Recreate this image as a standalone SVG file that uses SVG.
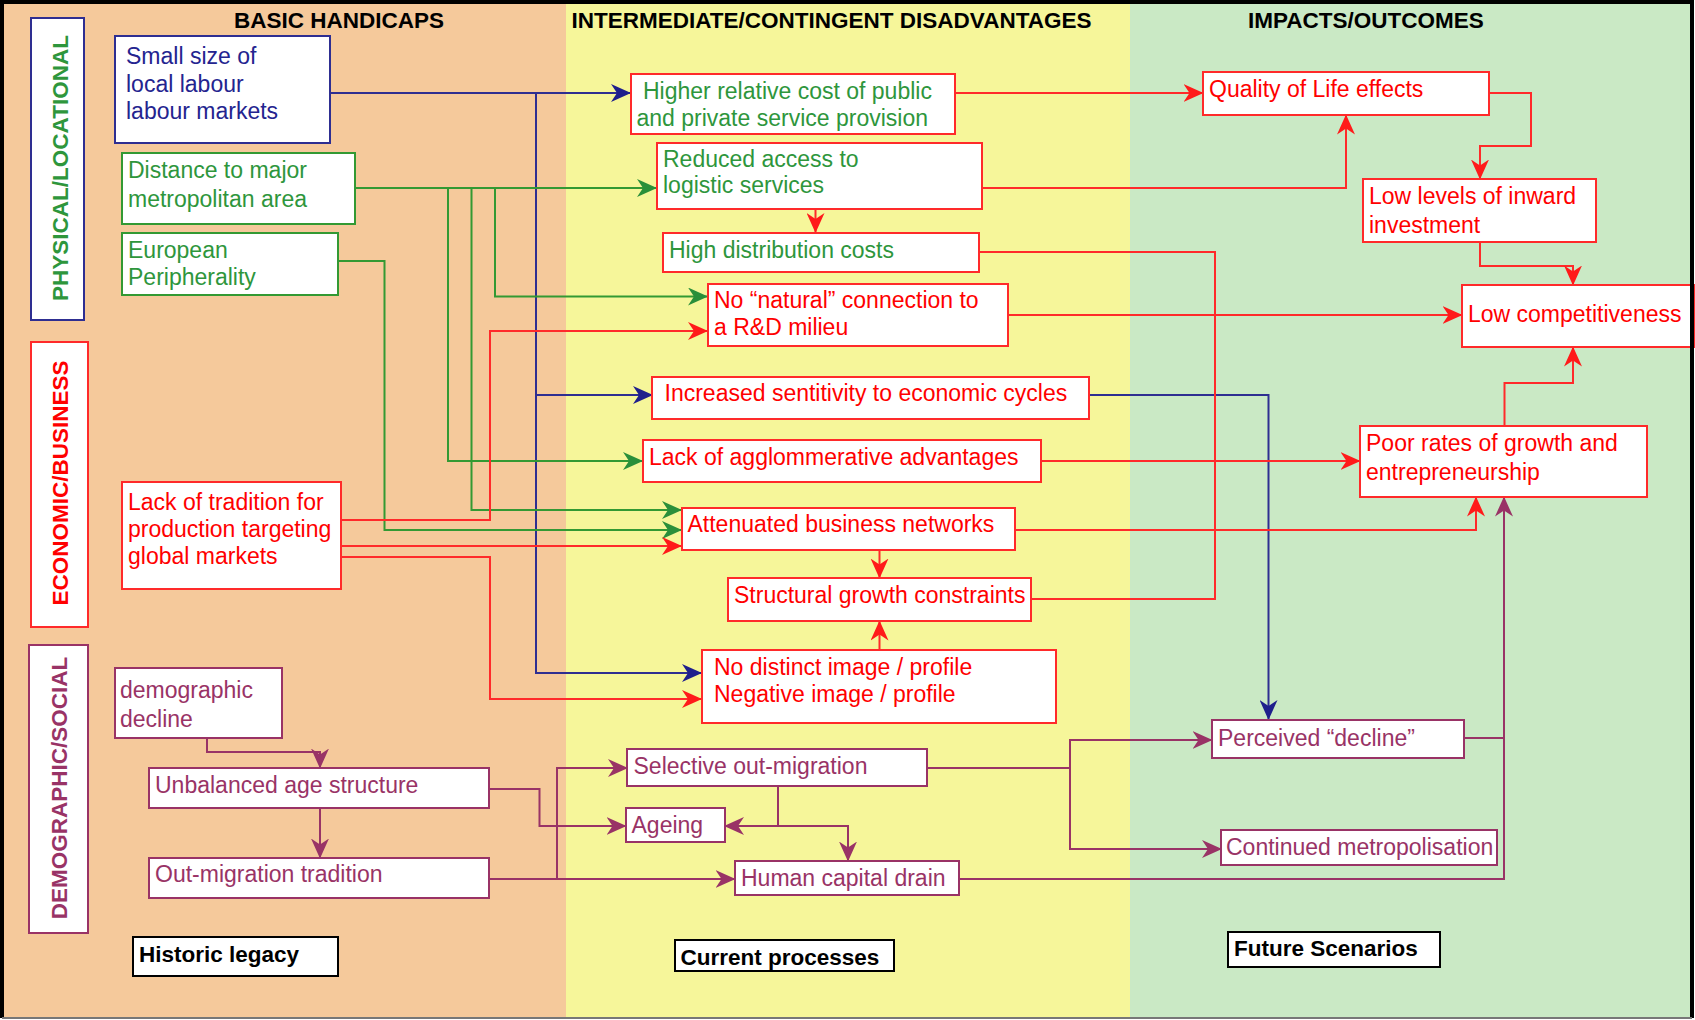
<svg xmlns="http://www.w3.org/2000/svg" width="1695" height="1020" viewBox="0 0 1695 1020">
<defs>
<style>
.t{font-family:"Liberation Sans",Arial,sans-serif;font-size:23px}
.b{font-family:"Liberation Sans",Arial,sans-serif;font-size:22.5px;font-weight:bold}
.box{fill:#fff;stroke-width:2}
.kb{fill:#fff;stroke:#000;stroke-width:2}
.rd{stroke:#FF2A2A}.gr{stroke:#339933}.nv{stroke:#2E2E91}.pp{stroke:#993366}
.tr{fill:#FF0000}.tg{fill:#2E963C}.tn{fill:#24248F}.tp{fill:#993366}.tk{fill:#000}
.c path{fill:none;stroke-width:2}
</style>
<marker id="an" markerUnits="userSpaceOnUse" markerWidth="20" markerHeight="18" refX="19" refY="9" orient="auto"><path d="M0,0 L20,9 L0,18 L6,9 Z" fill="#1F1F8C"/></marker>
<marker id="ag" markerUnits="userSpaceOnUse" markerWidth="20" markerHeight="18" refX="19" refY="9" orient="auto"><path d="M0,0 L20,9 L0,18 L6,9 Z" fill="#2A8F3A"/></marker>
<marker id="ar" markerUnits="userSpaceOnUse" markerWidth="20" markerHeight="18" refX="19" refY="9" orient="auto"><path d="M0,0 L20,9 L0,18 L6,9 Z" fill="#FF1A1A"/></marker>
<marker id="ap" markerUnits="userSpaceOnUse" markerWidth="20" markerHeight="18" refX="19" refY="9" orient="auto"><path d="M0,0 L20,9 L0,18 L6,9 Z" fill="#993366"/></marker>
</defs>

<g id="background">
<rect x="0" y="0" width="1695" height="1020" fill="#fff"/>
<rect x="4" y="4" width="562" height="1014" fill="#F5C99B"/>
<rect x="566" y="4" width="564" height="1014" fill="#F6F69A"/>
<rect x="1130" y="4" width="562" height="1014" fill="#CAE9C5"/>
</g>

<g id="headers">
<text class="b tk" x="234" y="28">BASIC HANDICAPS</text>
<text class="b tk" x="571.5" y="28">INTERMEDIATE/CONTINGENT DISADVANTAGES</text>
<text class="b tk" x="1248" y="28">IMPACTS/OUTCOMES</text>
</g>

<g id="cat-physical"><rect class="box nv" x="31" y="18" width="53" height="302"/><text class="b tg" font-size="23px" text-anchor="middle" transform="translate(68,168) rotate(-90)">PHYSICAL/LOCATIONAL</text></g>
<g id="cat-economic"><rect class="box rd" x="31" y="342" width="57" height="285"/><text class="b tr" font-size="23px" text-anchor="middle" transform="translate(68,483) rotate(-90)">ECONOMIC/BUSINESS</text></g>
<g id="cat-demographic"><rect class="box pp" x="29" y="645" width="59" height="288"/><text class="b tp" font-size="23px" text-anchor="middle" transform="translate(67,788) rotate(-90)">DEMOGRAPHIC/SOCIAL</text></g>

<g class="c" id="connectors">
<path class="nv" d="M330,93 H630" marker-end="url(#an)"/>
<path class="nv" d="M536,93 V673 H701" marker-end="url(#an)"/>
<path class="nv" d="M536,395 H652" marker-end="url(#an)"/>
<path class="nv" d="M1089,395 H1268.5 V719" marker-end="url(#an)"/>

<path class="gr" d="M355,188 H656" marker-end="url(#ag)"/>
<path class="gr" d="M495,188 V296.5 H707" marker-end="url(#ag)"/>
<path class="gr" d="M448,188 V461 H642" marker-end="url(#ag)"/>
<path class="gr" d="M471.5,188 V510 H681" marker-end="url(#ag)"/>
<path class="gr" d="M338,261 H384.5 V530 H681" marker-end="url(#ag)" stroke="#55AD55"/>

<path class="rd" d="M341,520 H490 V331 H707" marker-end="url(#ar)"/>
<path class="rd" d="M341,546 H681" marker-end="url(#ar)"/>
<path class="rd" d="M341,557 H490 V699 H701" marker-end="url(#ar)"/>
<path class="rd" d="M815.5,209 V232" marker-end="url(#ar)"/>
<path class="rd" d="M879.5,550 V577.5" marker-end="url(#ar)"/>
<path class="rd" d="M879.5,650 V621.5" marker-end="url(#ar)"/>
<path class="rd" d="M955,93 H1202.5" marker-end="url(#ar)"/>
<path class="rd" d="M982,188 H1346 V115.5" marker-end="url(#ar)"/>
<path class="rd" d="M979,252 H1215 V599 H1031"/>
<path class="rd" d="M1008,315 H1461.5" marker-end="url(#ar)"/>
<path class="rd" d="M1041,461 H1359.5" marker-end="url(#ar)"/>
<path class="rd" d="M1015,530 H1476 V497.5" marker-end="url(#ar)"/>
<path class="rd" d="M1489,93 H1531 V146 H1480 V178.5" marker-end="url(#ar)"/>
<path class="rd" d="M1480,242 V266 H1573 V284.5" marker-end="url(#ar)"/>
<path class="rd" d="M1504.5,426 V383 H1573 V347.5" marker-end="url(#ar)"/>

<path class="pp" d="M207,738 V752 H320 V767.5" marker-end="url(#ap)"/>
<path class="pp" d="M320,808 V857.5" marker-end="url(#ap)"/>
<path class="pp" d="M489,789 H539.5 V826 H625.5" marker-end="url(#ap)"/>
<path class="pp" d="M489,879 H734.5" marker-end="url(#ap)"/>
<path class="pp" d="M557,879 V768 H627" marker-end="url(#ap)"/>
<path class="pp" d="M778,786 V826 H725" marker-end="url(#ap)"/>
<path class="pp" d="M778,826 H848 V860.5" marker-end="url(#ap)"/>
<path class="pp" d="M927,768 H1070 V740 H1211.5" marker-end="url(#ap)"/>
<path class="pp" d="M1070,768 V849 H1221" marker-end="url(#ap)"/>
<path class="pp" d="M1464,738 H1504"/>
<path class="pp" d="M959,879 H1504 V497.5" marker-end="url(#ap)"/>
</g>

<g id="n-small"><rect class="box nv" x="115" y="36" width="215" height="107"/><text class="t tn" x="126" y="64">Small size of</text><text class="t tn" x="126" y="91.5">local labour</text><text class="t tn" x="126" y="119">labour markets</text></g>
<g id="n-distance"><rect class="box gr" x="122" y="153" width="233" height="71"/><text class="t tg" x="128" y="178">Distance to major</text><text class="t tg" x="128" y="207">metropolitan area</text></g>
<g id="n-european"><rect class="box gr" x="122" y="233" width="216" height="62"/><text class="t tg" x="128" y="258">European</text><text class="t tg" x="128" y="285">Peripherality</text></g>
<g id="n-lack"><rect class="box rd" x="122" y="482" width="219" height="107"/><text class="t tr" x="128" y="510">Lack of tradition for</text><text class="t tr" x="128" y="537">production targeting</text><text class="t tr" x="128" y="564">global markets</text></g>
<g id="n-demo"><rect class="box pp" x="115" y="668" width="167" height="70"/><text class="t tp" x="120" y="698">demographic</text><text class="t tp" x="120" y="727">decline</text></g>
<g id="n-unbalanced"><rect class="box pp" x="149" y="768" width="340" height="40"/><text class="t tp" x="155" y="793">Unbalanced age structure</text></g>
<g id="n-outmig"><rect class="box pp" x="149" y="858" width="340" height="40"/><text class="t tp" x="155" y="882">Out-migration tradition</text></g>
<g id="n-historic"><rect class="kb" x="133" y="937" width="205" height="39"/><text class="b tk" x="139" y="962">Historic legacy</text></g>

<g id="n-higher"><rect class="box rd" x="631" y="74" width="324" height="60"/><text class="t tg" x="643" y="99">Higher relative cost of public</text><text class="t tg" x="636.5" y="126">and private service provision</text></g>
<g id="n-reduced"><rect class="box rd" x="657" y="143" width="325" height="66"/><text class="t tg" x="663" y="167">Reduced access to</text><text class="t tg" x="663" y="193">logistic services</text></g>
<g id="n-highdist"><rect class="box rd" x="663" y="233" width="316" height="39"/><text class="t tg" x="669" y="258">High distribution costs</text></g>
<g id="n-natural"><rect class="box rd" x="708" y="284" width="300" height="62"/><text class="t tr" x="714" y="308">No “natural” connection to</text><text class="t tr" x="714" y="335">a R&amp;D milieu</text></g>
<g id="n-increased"><rect class="box rd" x="652" y="377" width="437" height="42"/><text class="t tr" x="664.5" y="401">Increased sentitivity to economic cycles</text></g>
<g id="n-agglom"><rect class="box rd" x="643" y="440" width="398" height="42"/><text class="t tr" x="649" y="465">Lack of agglommerative advantages</text></g>
<g id="n-attenuated"><rect class="box rd" x="682" y="508" width="333" height="42"/><text class="t tr" x="687.5" y="532">Attenuated business networks</text></g>
<g id="n-structural"><rect class="box rd" x="728" y="578" width="303" height="43"/><text class="t tr" x="734" y="603">Structural growth constraints</text></g>
<g id="n-image"><rect class="box rd" x="702" y="650" width="354" height="73"/><text class="t tr" x="714" y="675">No distinct image / profile</text><text class="t tr" x="714" y="702">Negative image / profile</text></g>
<g id="n-selective"><rect class="box pp" x="627" y="749" width="300" height="37"/><text class="t tp" x="633.5" y="774">Selective out-migration</text></g>
<g id="n-ageing"><rect class="box pp" x="626" y="808" width="99" height="34"/><text class="t tp" x="631.5" y="833">Ageing</text></g>
<g id="n-human"><rect class="box pp" x="735" y="861" width="224" height="34"/><text class="t tp" x="741" y="886">Human capital drain</text></g>
<g id="n-current"><rect class="kb" x="675" y="940" width="219" height="31"/><text class="b tk" x="680.5" y="965">Current processes</text></g>

<g id="n-quality"><rect class="box rd" x="1203" y="72" width="286" height="43"/><text class="t tr" x="1209" y="97">Quality of Life effects</text></g>
<g id="n-lowlevels"><rect class="box rd" x="1363" y="179" width="233" height="63"/><text class="t tr" x="1369" y="204">Low levels of inward</text><text class="t tr" x="1369" y="233">investment</text></g>
<g id="n-lowcomp"><rect class="box rd" x="1462" y="285" width="232" height="62"/><text class="t tr" x="1468" y="322">Low competitiveness</text></g>
<g id="n-poor"><rect class="box rd" x="1360" y="426" width="287" height="71"/><text class="t tr" x="1366" y="451">Poor rates of growth and</text><text class="t tr" x="1366" y="480">entrepreneurship</text></g>
<g id="n-perceived"><rect class="box pp" x="1212" y="720" width="252" height="38"/><text class="t tp" x="1218" y="746">Perceived “decline”</text></g>
<g id="n-continued"><rect class="box pp" x="1221" y="830" width="276" height="35"/><text class="t tp" x="1226" y="855">Continued metropolisation</text></g>
<g id="n-future"><rect class="kb" x="1228" y="932" width="212" height="35"/><text class="b tk" x="1234" y="956">Future Scenarios</text></g>

<g id="frame">
<path d="M2,1018 V2 H1692 V1018" fill="none" stroke="#000" stroke-width="4"/>
<path d="M2,1018 H1692" fill="none" stroke="#777" stroke-width="2"/>
</g>
</svg>
